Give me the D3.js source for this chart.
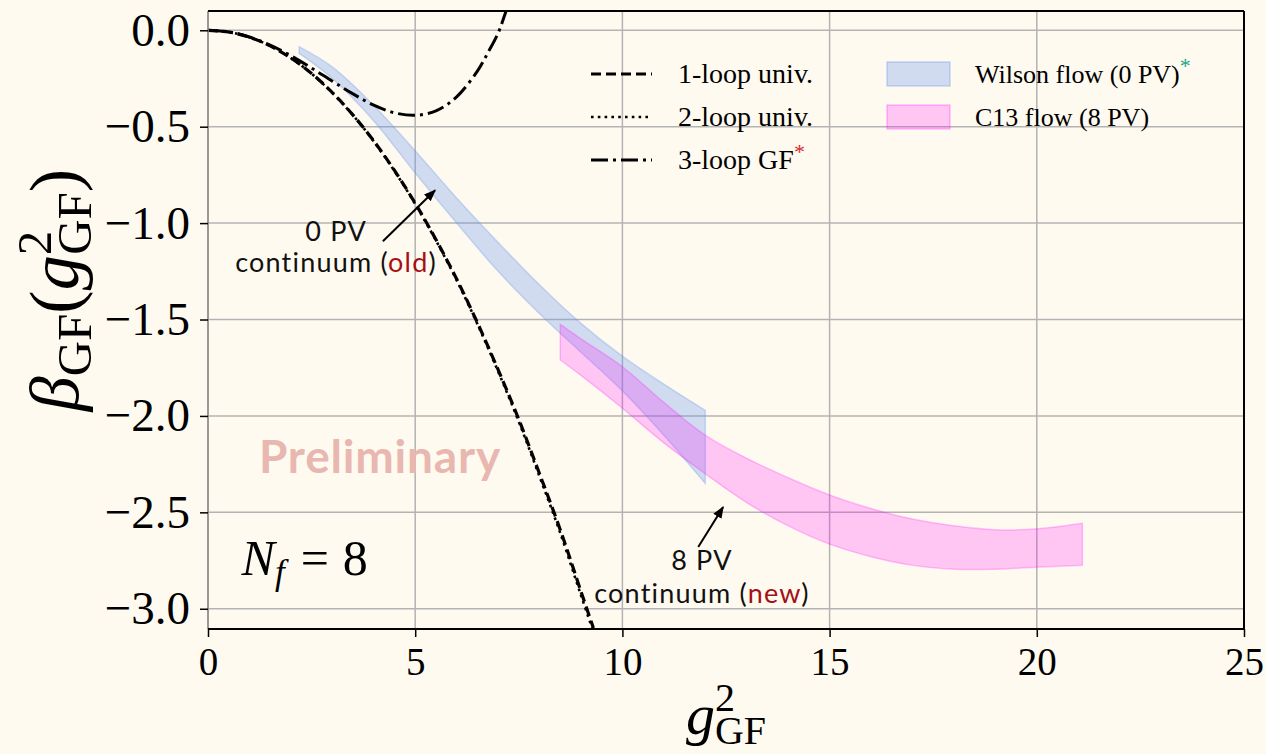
<!DOCTYPE html>
<html>
<head>
<meta charset="utf-8">
<script src="https://cdn.jsdelivr.net/npm/d3@7"></script>
<style>
  body { margin: 0; background: #fffaf0; }
  svg { display: block; }
</style>
</head>
<body>
<svg id="chart" width="1266" height="754"></svg>
<script>
// tick values
const xTicks = [0, 5, 10, 15, 20, 25];
const yTicks = [0, -0.5, -1.0, -1.5, -2.0, -2.5, -3.0];

// perturbative curves
const oneLoopG = [0, 0.5, 1, 1.5, 2, 2.5, 3, 3.5, 4, 4.5, 5, 5.5, 6, 6.5, 7, 7.5, 8, 8.5, 9, 9.3];
const oneLoopB = [0, -0.009, -0.036, -0.081, -0.144, -0.224, -0.323, -0.44, -0.574, -0.727, -0.897, -1.085, -1.29, -1.516, -1.76, -2.018, -2.30, -2.59, -2.91, -3.10];
const twoLoopB = [0, -0.009, -0.036, -0.081, -0.144, -0.225, -0.325, -0.441, -0.576, -0.730, -0.901, -1.09, -1.296, -1.523, -1.769, -2.03, -2.314, -2.607, -2.93, -3.12];
const threeLoopG = [0, 0.5, 1, 1.5, 2, 2.5, 3, 3.5, 4, 4.5, 5, 5.5, 6, 6.5, 6.75, 7, 7.2, 7.4];
const threeLoopB = [0, -0.009, -0.035, -0.077, -0.132, -0.196, -0.264, -0.330, -0.388, -0.428, -0.441, -0.418, -0.345, -0.212, -0.118, -0.015, 0.104, 0.227];

// Wilson flow (0 PV) band
const wilsonG = [2.2, 3, 4, 5, 6, 7, 8, 9, 10, 11, 12];
const wilsonHi = [-0.085, -0.19, -0.39, -0.625, -0.87, -1.10, -1.32, -1.52, -1.69, -1.835, -1.971];
const wilsonLo = [-0.12, -0.25, -0.47, -0.74, -1.0, -1.25, -1.47, -1.67, -1.87, -2.10, -2.35];

// C13 flow (8 PV) band
const c13G = [8.5, 9, 10, 11, 12, 13, 14, 15, 16, 17, 18, 19, 20, 21.1];
const c13Hi = [-1.525, -1.60, -1.745, -1.93, -2.10, -2.22, -2.32, -2.41, -2.48, -2.535, -2.57, -2.59, -2.585, -2.556];
const c13Lo = [-1.71, -1.79, -1.96, -2.14, -2.30, -2.45, -2.57, -2.665, -2.73, -2.775, -2.795, -2.795, -2.785, -2.775];

const svg = d3.select("#chart");
const W = 1266, H = 754;
const plot = { left: 208, right: 1244, top: 11, bottom: 629 };

svg.append("rect").attr("width", W).attr("height", H).attr("fill", "#fffaf0");

const x = d3.scaleLinear().domain([0, 25]).range([plot.left, plot.right]);
const y = d3.scaleLinear().domain([-3.105, 0.1]).range([plot.bottom, plot.top]);

const serif = "'Liberation Serif', 'Times New Roman', serif";
const sans = "Lato, 'Noto Sans', sans-serif";

svg.append("clipPath").attr("id", "clip")
    .append("rect")
    .attr("x", plot.left).attr("y", plot.top)
    .attr("width", plot.right - plot.left).attr("height", plot.bottom - plot.top);

// grid
const grid = svg.append("g").attr("stroke", "#b3b3b3").attr("stroke-width", 1.5);
grid.selectAll("line.gx").data(xTicks).enter().append("line")
    .attr("x1", d => x(d)).attr("x2", d => x(d))
    .attr("y1", plot.top).attr("y2", plot.bottom);
grid.selectAll("line.gy").data(yTicks).enter().append("line")
    .attr("x1", plot.left).attr("x2", plot.right)
    .attr("y1", d => y(d)).attr("y2", d => y(d));

const body = svg.append("g").attr("clip-path", "url(#clip)");

// bands
function band(gs, lo, hi) {
    const rows = gs.map((g, i) => ({ g: g, lo: lo[i], hi: hi[i] }));
    return d3.area().x(d => x(d.g)).y0(d => y(d.lo)).y1(d => y(d.hi))
        .curve(d3.curveCatmullRom)(rows);
}
body.append("path")
    .attr("d", band(wilsonG, wilsonLo, wilsonHi))
    .attr("fill", "rgba(100,149,237,0.3)")
    .attr("stroke", "rgba(100,149,237,0.3)")
    .attr("stroke-width", 1.5);
body.append("path")
    .attr("d", band(c13G, c13Lo, c13Hi))
    .attr("fill", "rgba(255,0,255,0.21)")
    .attr("stroke", "rgba(255,0,255,0.22)")
    .attr("stroke-width", 1.5);

// curves
function curve(gs, bs) {
    return d3.line().x(d => x(d[0])).y(d => y(d[1]))
        .curve(d3.curveCatmullRom)(gs.map((g, i) => [g, bs[i]]));
}
body.append("path").attr("d", curve(oneLoopG, twoLoopB))
    .attr("fill", "none").attr("stroke", "#000").attr("stroke-width", 2.6)
    .attr("stroke-dasharray", "2.6,4.2");
body.append("path").attr("d", curve(oneLoopG, oneLoopB))
    .attr("fill", "none").attr("stroke", "#000").attr("stroke-width", 3.2)
    .attr("stroke-dasharray", "10,5");
body.append("path").attr("d", curve(threeLoopG, threeLoopB))
    .attr("fill", "none").attr("stroke", "#000").attr("stroke-width", 3)
    .attr("stroke-dasharray", "17,5,3,5");

// spines
svg.append("line").attr("x1", plot.left).attr("x2", plot.left)
    .attr("y1", plot.top).attr("y2", plot.bottom)
    .attr("stroke", "#888").attr("stroke-width", 1.5);
const spines = svg.append("g").attr("stroke", "#000").attr("stroke-width", 2);
spines.append("line").attr("x1", plot.left).attr("x2", plot.right).attr("y1", plot.top).attr("y2", plot.top);
spines.append("line").attr("x1", plot.left).attr("x2", plot.right).attr("y1", plot.bottom).attr("y2", plot.bottom);
spines.append("line").attr("x1", plot.right).attr("x2", plot.right).attr("y1", plot.top).attr("y2", plot.bottom);

// axes
const yAxis = svg.append("g").attr("transform", `translate(${plot.left},0)`)
    .call(d3.axisLeft(y).tickValues(yTicks).tickSize(8).tickPadding(10)
        .tickFormat(d => d3.format(".1f")(d)));
const xAxis = svg.append("g").attr("transform", `translate(0,${plot.bottom})`)
    .call(d3.axisBottom(x).tickValues(xTicks).tickSize(8).tickPadding(10)
        .tickFormat(d3.format("d")));
[yAxis, xAxis].forEach(a => {
    a.select(".domain").remove();
    a.selectAll(".tick line").attr("stroke", "#000").attr("stroke-width", 1.5);
    a.selectAll(".tick text").attr("fill", "#000").style("font-family", serif);
});
yAxis.selectAll(".tick text").style("font-size", "47px");
xAxis.selectAll(".tick text").style("font-size", "39px");

// axis labels
const yl = svg.append("text")
    .attr("transform", "translate(78,290) rotate(-90)")
    .attr("text-anchor", "middle")
    .style("font-family", serif).style("font-size", "70px");
yl.append("tspan").style("font-style", "italic").text("β");
yl.append("tspan").attr("dy", 13).style("font-size", "49px").text("GF");
yl.append("tspan").attr("dy", -13).text("(");
yl.append("tspan").style("font-style", "italic").text("g");
yl.append("tspan").attr("dy", -27).style("font-size", "49px").text("2");
yl.append("tspan").attr("dx", -24).attr("dy", 40).style("font-size", "49px").text("GF");
yl.append("tspan").attr("dy", -13).text(")");

const xl = svg.append("text")
    .attr("transform", "translate(726,734)")
    .attr("text-anchor", "middle")
    .style("font-family", serif).style("font-size", "58px");
xl.append("tspan").style("font-style", "italic").text("g");
xl.append("tspan").attr("dy", -23).style("font-size", "40px").text("2");
xl.append("tspan").attr("dx", -20).attr("dy", 33).style("font-size", "40px").text("GF");

// legend
const legLines = [
    { label: "1-loop univ.", dash: "10,5", w: 3.2, star: null },
    { label: "2-loop univ.", dash: "2.6,4.2", w: 2.6, star: null },
    { label: "3-loop GF", dash: "17,5,3,5", w: 3, star: "#d62728" }
];
const legBands = [
    { label: "Wilson flow (0 PV)", fill: "rgba(100,149,237,0.3)", stroke: "rgba(100,149,237,0.35)", star: "#17a589" },
    { label: "C13 flow (8 PV)", fill: "rgba(255,0,255,0.21)", stroke: "rgba(255,0,255,0.25)", star: null }
];
const rowY = [74, 117, 160];

const legL = svg.append("g").selectAll("g").data(legLines).enter().append("g")
    .attr("transform", (d, i) => `translate(0,${rowY[i]})`);
legL.append("line").attr("x1", 591).attr("x2", 652).attr("y1", 0).attr("y2", 0)
    .attr("stroke", "#000").attr("stroke-width", d => d.w)
    .attr("stroke-dasharray", d => d.dash);
const legLText = legL.append("text").attr("x", 678).attr("y", 9)
    .style("font-family", serif).style("font-size", "28px").attr("fill", "#000");
legLText.append("tspan").text(d => d.label);
legLText.filter(d => d.star).append("tspan")
    .attr("dy", -10).style("font-size", "22px").attr("fill", d => d.star).text("*");

const legB = svg.append("g").selectAll("g").data(legBands).enter().append("g")
    .attr("transform", (d, i) => `translate(0,${rowY[i]})`);
legB.append("rect").attr("x", 887).attr("y", -12).attr("width", 63).attr("height", 24)
    .attr("fill", d => d.fill).attr("stroke", d => d.stroke).attr("stroke-width", 1.5);
const legBText = legB.append("text").attr("x", 975).attr("y", 9)
    .style("font-family", serif).style("font-size", "26px").attr("fill", "#000");
legBText.append("tspan").text(d => d.label);
legBText.filter(d => d.star).append("tspan")
    .attr("dy", -10).style("font-size", "22px").attr("fill", d => d.star).text("*");

// annotations
svg.append("defs").append("marker")
    .attr("id", "arrow").attr("viewBox", "0 0 10 10")
    .attr("refX", 9).attr("refY", 5)
    .attr("markerWidth", 6).attr("markerHeight", 6)
    .attr("orient", "auto")
    .append("path").attr("d", "M0,1 L10,5 L0,9 z").attr("fill", "#000");

const notes = [
    { gx: 3.09, top: "0 PV", tb: -1.094, bb: -1.255, word: "old", tail: [4.22, -1.094], head: [5.48, -0.83] },
    { gx: 11.92, top: "8 PV", tb: -2.80, bb: -2.972, word: "new", tail: [11.83, -2.68], head: [12.43, -2.473] }
];
notes.forEach(n => {
    svg.append("line")
        .attr("x1", x(n.tail[0])).attr("y1", y(n.tail[1]))
        .attr("x2", x(n.head[0])).attr("y2", y(n.head[1]))
        .attr("stroke", "#000").attr("stroke-width", 2)
        .attr("marker-end", "url(#arrow)");
    svg.append("text").attr("x", x(n.gx)).attr("y", y(n.tb))
        .attr("text-anchor", "middle")
        .style("font-family", sans).style("font-size", "27px")
        .style("letter-spacing", "1.2px").attr("fill", "#111")
        .text(n.top);
    const t = svg.append("text").attr("x", x(n.gx)).attr("y", y(n.bb))
        .attr("text-anchor", "middle")
        .style("font-family", sans).style("font-size", "27px")
        .style("letter-spacing", "1.2px").attr("fill", "#111");
    t.append("tspan").text("continuum (");
    t.append("tspan").attr("fill", "#a50f15").text(n.word);
    t.append("tspan").text(")");
});

svg.append("text").attr("x", x(1.23)).attr("y", y(-2.298))
    .style("font-family", sans).style("font-weight", "bold").style("font-size", "46px")
    .style("letter-spacing", "0.8px")
    .attr("fill", "#e8b8b0").text("Preliminary");

const nf = svg.append("text").attr("x", x(0.81)).attr("y", y(-2.827))
    .style("font-family", serif).style("font-size", "50px").attr("fill", "#000");
nf.append("tspan").style("font-style", "italic").text("N");
nf.append("tspan").attr("dy", 9).style("font-size", "35px").style("font-style", "italic").text("f");
nf.append("tspan").attr("dy", -9).attr("dx", 16).text("=");
nf.append("tspan").attr("dx", 14).text("8");
</script>
</body>
</html>
